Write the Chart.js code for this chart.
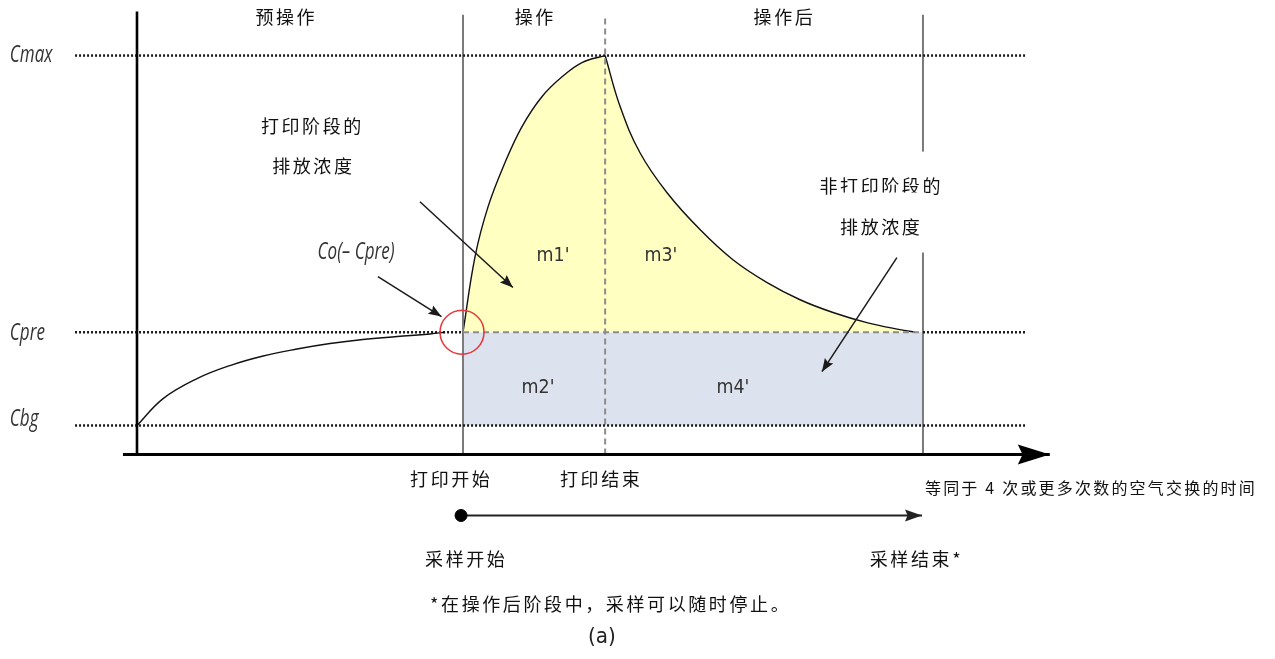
<!DOCTYPE html>
<html>
<head>
<meta charset="utf-8">
<script src="https://cdn.jsdelivr.net/npm/chart.js@4/dist/chart.umd.min.js"></script>
<style>
  html, body { margin: 0; padding: 0; background: #fff; }
  #wrap { width: 1275px; height: 659px; position: relative; }
</style>
</head>
<body>
<div id="wrap"><canvas id="diagram"></canvas></div>
<script>
// concentration levels
const CMAX = 13.76;
const CPRE = 4.22;
const CBG = 1.0;

// time marks
const T_PRINT_START = 10;
const T_PRINT_END = 14.36;
const T_SAMPLE_END = 24.11;

// pre-operation curve
const preX = [0, 0.80, 1.84, 2.85, 3.87, 4.91, 5.92, 6.93, 7.98, 8.99, 9.45];
const preY = [1.0, 1.93, 2.62, 3.07, 3.40, 3.64, 3.83, 3.97, 4.07, 4.16, 4.22];

// printing phase (rise)
const riseX = [10.0, 10.37, 10.77, 11.29, 11.81, 12.42, 13.04, 13.65, 14.36];
const riseY = [4.22, 6.83, 8.55, 10.07, 11.31, 12.34, 13.03, 13.52, 13.76];

// post-operation (decay)
const decayX = [14.36, 14.82, 15.43, 16.26, 17.27, 18.28, 19.33, 20.34, 21.35, 22.39, 23.40, 23.87];
const decayY = [13.76, 12.00, 10.41, 9.03, 7.76, 6.72, 5.93, 5.34, 4.90, 4.55, 4.31, 4.22];

// extents of reference lines / axes
const refSpan = [-1.9, 27.3];
const axisSpan = [-0.43, 28.0];
const yAxisTop = 15.28;
const lineTop = 15.17;
const sampleY = -2.10;
const sampleSpan = [9.94, 24.08];

// annotation arrows [x0, y0, x1, y1]
const pointerArrows = [
  [8.68, 8.72, 11.53, 5.76],
  [7.39, 6.14, 9.34, 4.76],
  [23.31, 6.79, 21.01, 2.86]
];

// texts
const labels = [
  { t: '预操作', x: 4.54, y: 15.07, f: 'cjk' },
  { t: '操作', x: 12.18, y: 15.07, f: 'cjk' },
  { t: '操作后', x: 19.82, y: 15.07, f: 'cjk' },
  { t: 'Cmax', x: -3.9, y: 13.76, f: 'ital', a: 'left' },
  { t: 'Cpre', x: -3.9, y: 4.17, f: 'ital', a: 'left' },
  { t: 'Cbg', x: -3.9, y: 1.21, f: 'ital', a: 'left' },
  { t: '打印阶段的', x: 5.34, y: 11.31, f: 'cjk' },
  { t: '排放浓度', x: 5.37, y: 9.93, f: 'cjk' },
  { t: 'Co(– Cpre)', x: 6.72, y: 6.97, f: 'ital' },
  { t: "m1'", x: 12.76, y: 6.86, f: 'm' },
  { t: "m3'", x: 16.07, y: 6.86, f: 'm' },
  { t: "m2'", x: 12.30, y: 2.31, f: 'm' },
  { t: "m4'", x: 18.28, y: 2.31, f: 'm' },
  { t: '非打印阶段的', x: 22.79, y: 9.24, f: 'cjk', bg: true },
  { t: '排放浓度', x: 22.79, y: 7.83, f: 'cjk', bg: true },
  { t: '打印开始', x: 9.60, y: -0.83, f: 'cjk' },
  { t: '打印结束', x: 14.20, y: -0.83, f: 'cjk' },
  { t: '等同于 4 次或更多次数的空气交换的时间', x: 24.17, y: -1.14, f: 'small', a: 'left' },
  { t: '采样开始', x: 10.06, y: -3.62, f: 'cjk' },
  { t: '采样结束*', x: 23.87, y: -3.62, f: 'cjk' },
  { t: '*在操作后阶段中，采样可以随时停止。', x: 8.99, y: -5.14, f: 'cjk', a: 'left' },
  { t: '(a)', x: 14.26, y: -6.31, f: 'cap' }
];

const fonts = {
  cjk: { font: '18px "Noto Sans CJK SC"', spacing: 2.6, color: '#111', sx: 1 },
  small: { font: '16px "Noto Sans CJK SC"', spacing: 2.2, color: '#111', sx: 1 },
  ital: { font: 'italic 23px "Open Sans"', spacing: 0, color: '#333', sx: 0.74 },
  m: { font: '19px "DejaVu Sans"', spacing: 0, color: '#333', sx: 0.92 },
  cap: { font: '21px "DejaVu Sans"', spacing: 0, color: '#222', sx: 0.95 }
};

const PX_X = 32.6, PX_Y = 29;
const PAD = { left: 70, right: 200, top: 11, bottom: 129 };
const X_MIN = -2.055, X_MAX = X_MIN + (1275 - PAD.left - PAD.right) / PX_X;
const Y_MIN = -2.6, Y_MAX = Y_MIN + (659 - PAD.top - PAD.bottom) / PX_Y;

const pts = (xs, ys) => xs.map((x, i) => ({ x: x, y: ys[i] }));
const hLine = (y, x0, x1) => [{ x: x0, y: y }, { x: x1, y: y }];
const vLine = (x, y0, y1) => [{ x: x, y: y0 }, { x: x, y: y1 }];

const dotted = { borderColor: '#1a1a1a', borderWidth: 2.5, borderDash: [2, 2], order: 3 };

const datasets = [
  // blue area m2'/m4'
  { data: hLine(CPRE, T_PRINT_START, T_SAMPLE_END), fill: { value: CBG }, backgroundColor: '#dde3ee', borderColor: 'rgba(0,0,0,0)', borderWidth: 0, order: 10 },
  // yellow areas + curves
  { data: pts(riseX, riseY), fill: { value: CPRE }, backgroundColor: '#ffffc2', borderColor: '#111', borderWidth: 1.4, tension: 0.4, order: 9 },
  { data: pts(decayX, decayY), fill: { value: CPRE }, backgroundColor: '#ffffc2', borderColor: '#111', borderWidth: 1.4, tension: 0.4, order: 9 },
  { data: pts(preX, preY), borderColor: '#111', borderWidth: 1.4, tension: 0.4, order: 2 },
  // reference lines
  Object.assign({ data: hLine(CMAX, refSpan[0], refSpan[1]) }, dotted),
  Object.assign({ data: hLine(CBG, refSpan[0], refSpan[1]) }, dotted),
  Object.assign({ data: hLine(CPRE, refSpan[0], T_PRINT_START) }, dotted),
  Object.assign({ data: hLine(CPRE, T_SAMPLE_END, refSpan[1]) }, dotted),
  { data: hLine(CPRE, T_PRINT_START, T_SAMPLE_END), borderColor: '#8c8c8c', borderWidth: 2, borderDash: [6, 4], order: 4 },
  // vertical lines
  { data: vLine(T_PRINT_START, 0, lineTop), borderColor: '#7a7a7a', borderWidth: 2, order: 5 },
  { data: vLine(T_PRINT_END, 0, lineTop), borderColor: '#8c8c8c', borderWidth: 2, borderDash: [6, 4], order: 5 },
  { data: vLine(T_SAMPLE_END, 0, lineTop), borderColor: '#7a7a7a', borderWidth: 2, order: 5 },
  { data: vLine(0, 0, yAxisTop), borderColor: '#000', borderWidth: 2.6, order: 1 },
  // x axis
  { data: hLine(0, axisSpan[0], axisSpan[1]), borderColor: '#000', borderWidth: 3, order: 1, arrow: { len: 32, half: 10 } },
  // sampling period
  { data: hLine(sampleY, sampleSpan[0], sampleSpan[1]), borderColor: '#222', borderWidth: 2, order: 1, arrow: { len: 17, half: 6 } },
  { data: [{ x: sampleSpan[0], y: sampleY }], showLine: false, pointRadius: 6, pointBackgroundColor: '#000', pointBorderColor: '#000', order: 0 },
  // Co marker circle
  { data: [{ x: 9.97, y: CPRE }], showLine: false, pointRadius: 22, pointBackgroundColor: 'rgba(0,0,0,0)', pointBorderColor: '#e8383d', pointBorderWidth: 1.5, order: 0 }
];

pointerArrows.forEach(a => {
  datasets.push({ data: [{ x: a[0], y: a[1] }, { x: a[2], y: a[3] }], borderColor: '#1a1a1a', borderWidth: 1.5, order: 0, arrow: { len: 13, half: 5 } });
});

function drawHead(ctx, ax, ay, bx, by, len, half, color) {
  const ang = Math.atan2(by - ay, bx - ax);
  ctx.save();
  ctx.translate(bx, by);
  ctx.rotate(ang);
  ctx.fillStyle = color;
  ctx.beginPath();
  ctx.moveTo(0, 0);
  ctx.lineTo(-len, -half);
  ctx.lineTo(-len * 0.85, 0);
  ctx.lineTo(-len, half);
  ctx.closePath();
  ctx.fill();
  ctx.restore();
}

const annotations = {
  id: 'annotations',
  afterDatasetsDraw(chart) {
    const ctx = chart.ctx;
    const sx = chart.scales.x, sy = chart.scales.y;

    chart.data.datasets.forEach((ds, i) => {
      if (!ds.arrow) return;
      const el = chart.getDatasetMeta(i).data;
      const a = el[el.length - 2], b = el[el.length - 1];
      drawHead(ctx, a.x, a.y, b.x, b.y, ds.arrow.len, ds.arrow.half, ds.borderColor);
    });

    labels.forEach(l => {
      const f = fonts[l.f];
      const px = sx.getPixelForValue(l.x);
      const py = sy.getPixelForValue(l.y);
      ctx.save();
      ctx.font = f.font;
      ctx.letterSpacing = f.spacing + 'px';
      ctx.textBaseline = 'middle';
      const w = (ctx.measureText(l.t).width - f.spacing) * f.sx;
      let left = l.a === 'left' ? px : px - w / 2;
      if (l.bg) {
        // white box behind the text breaks the vertical line
        ctx.fillStyle = '#fff';
        ctx.fillRect(left - 6, py - 35, w + 12, 60);
      }
      ctx.translate(left, py);
      ctx.scale(f.sx, 1);
      ctx.fillStyle = f.color;
      ctx.textAlign = 'left';
      ctx.fillText(l.t, 0, 0);
      ctx.restore();
    });
  }
};

new Chart(document.getElementById('diagram'), {
  type: 'line',
  data: { datasets: datasets },
  options: {
    responsive: true,
    maintainAspectRatio: false,
    animation: false,
    layout: { padding: PAD, autoPadding: false },
    elements: { point: { radius: 0 }, line: { tension: 0 } },
    plugins: { legend: { display: false }, tooltip: { enabled: false } },
    scales: {
      x: { type: 'linear', min: X_MIN, max: X_MAX, display: false },
      y: { type: 'linear', min: Y_MIN, max: Y_MAX, display: false }
    }
  },
  plugins: [annotations]
});
</script>
</body>
</html>
